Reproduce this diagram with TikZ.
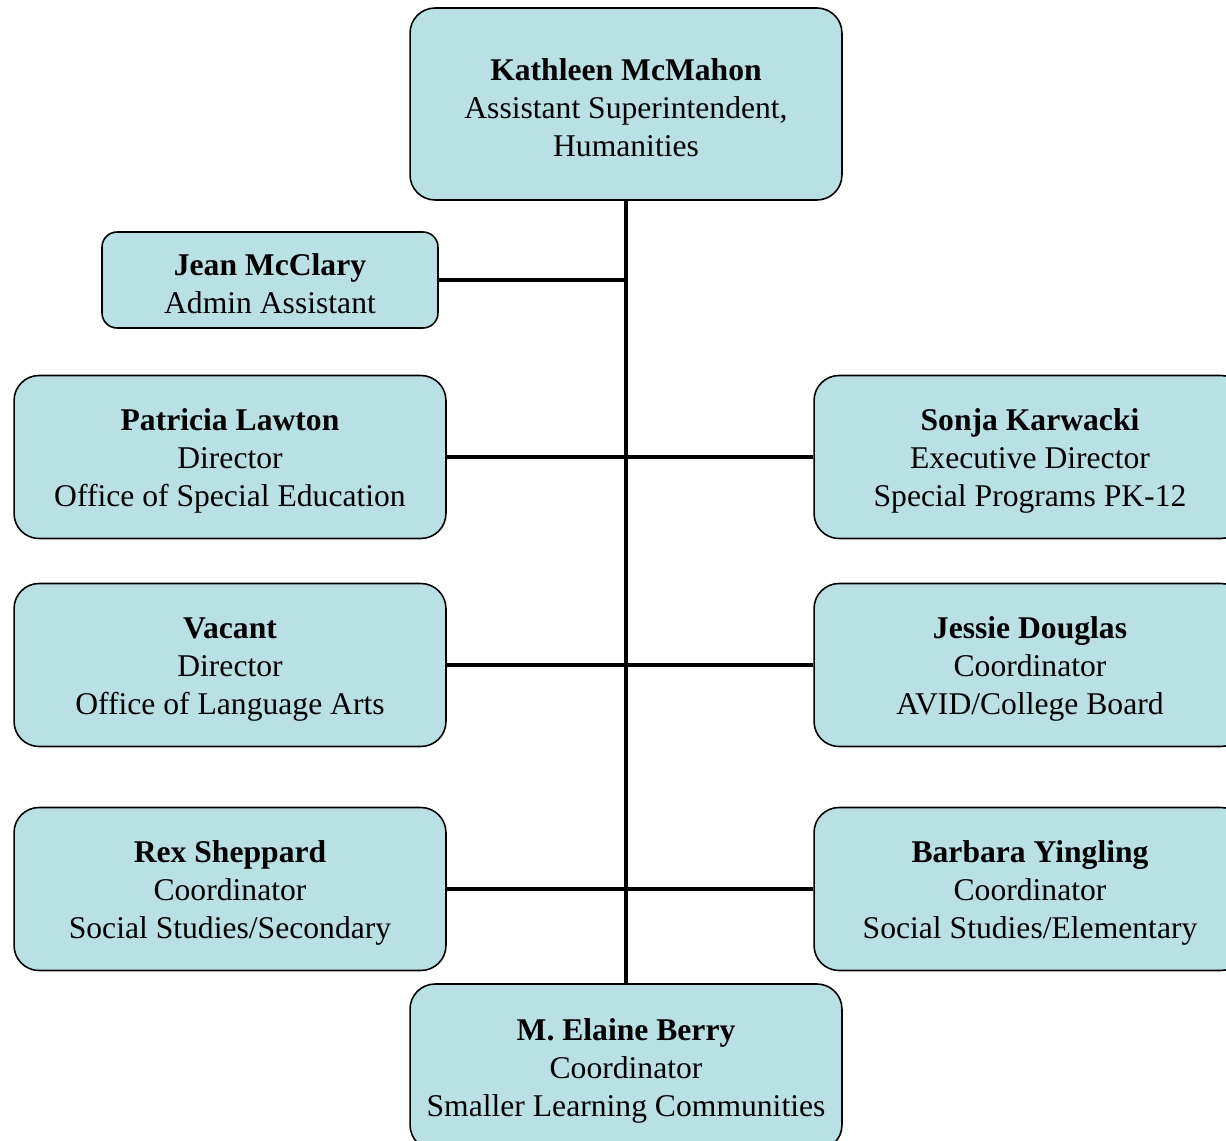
\documentclass[tikz,border=0pt]{standalone}
\usepackage{fontspec}
\setmainfont{Liberation Serif}
\definecolor{boxfill}{HTML}{B9E0E3}
\newcommand{\who}[1]{\rule{0pt}{16.5pt}\textbf{#1}\\}

\tikzset{
  staff/.style={draw=black, line width=0.9pt, fill=boxfill, rounded corners=0.5cm,
    align=center, inner sep=0pt, font=\fontsize{18}{21.6}\selectfont},
  bigbox/.style={staff, minimum width=8.64cm, minimum height=3.26cm},
  link/.style={line width=1.8pt}
}

\begin{document}
\begin{tikzpicture}[x=0.02cm, y=-0.02cm]
  \useasboundingbox (0,0) rectangle (1226,1141);
  \clip (0,0) rectangle (1226,1141);
  % head of the group
  \node[staff, minimum width=8.64cm, minimum height=3.84cm] (mcmahon) at (626, 104)
    {\who{Kathleen McMahon}Assistant Superintendent,\\Humanities};
  \node[staff, rounded corners=0.3cm, minimum width=6.72cm, minimum height=1.92cm] (mcclary) at (270, 280)
    {\who{Jean McClary}Admin Assistant};
  % left column
  \node[bigbox] (lawton)   at ( 230, 457) {\who{Patricia Lawton}Director\\Office of Special Education};
  \node[bigbox] (vacant)   at ( 230, 665) {\who{Vacant}Director\\Office of Language Arts};
  \node[bigbox] (sheppard) at ( 230, 889) {\who{Rex Sheppard}Coordinator\\Social Studies/Secondary};
  % right column
  \node[bigbox] (karwacki) at (1030, 457) {\who{Sonja Karwacki}Executive Director\\Special Programs PK-12};
  \node[bigbox] (douglas)  at (1030, 665) {\who{Jessie Douglas}Coordinator\\AVID/College Board};
  \node[bigbox] (yingling) at (1030, 889) {\who{Barbara Yingling}Coordinator\\Social Studies/Elementary};
  % bottom
  \node[staff, minimum width=8.64cm, minimum height=3.32cm] (berry) at (626, 1067)
    {\who{M. Elaine Berry}Coordinator\\Smaller Learning Communities};
  % connectors
  \draw[link, line width=2.2pt] (mcmahon.south) -- (berry.north);
  \draw[link] (mcclary.east) -- (mcclary.east -| mcmahon.south);
  \draw[link] (lawton.east)   -- (karwacki.west);
  \draw[link] (vacant.east)   -- (douglas.west);
  \draw[link] (sheppard.east) -- (yingling.west);
\end{tikzpicture}
\end{document}
